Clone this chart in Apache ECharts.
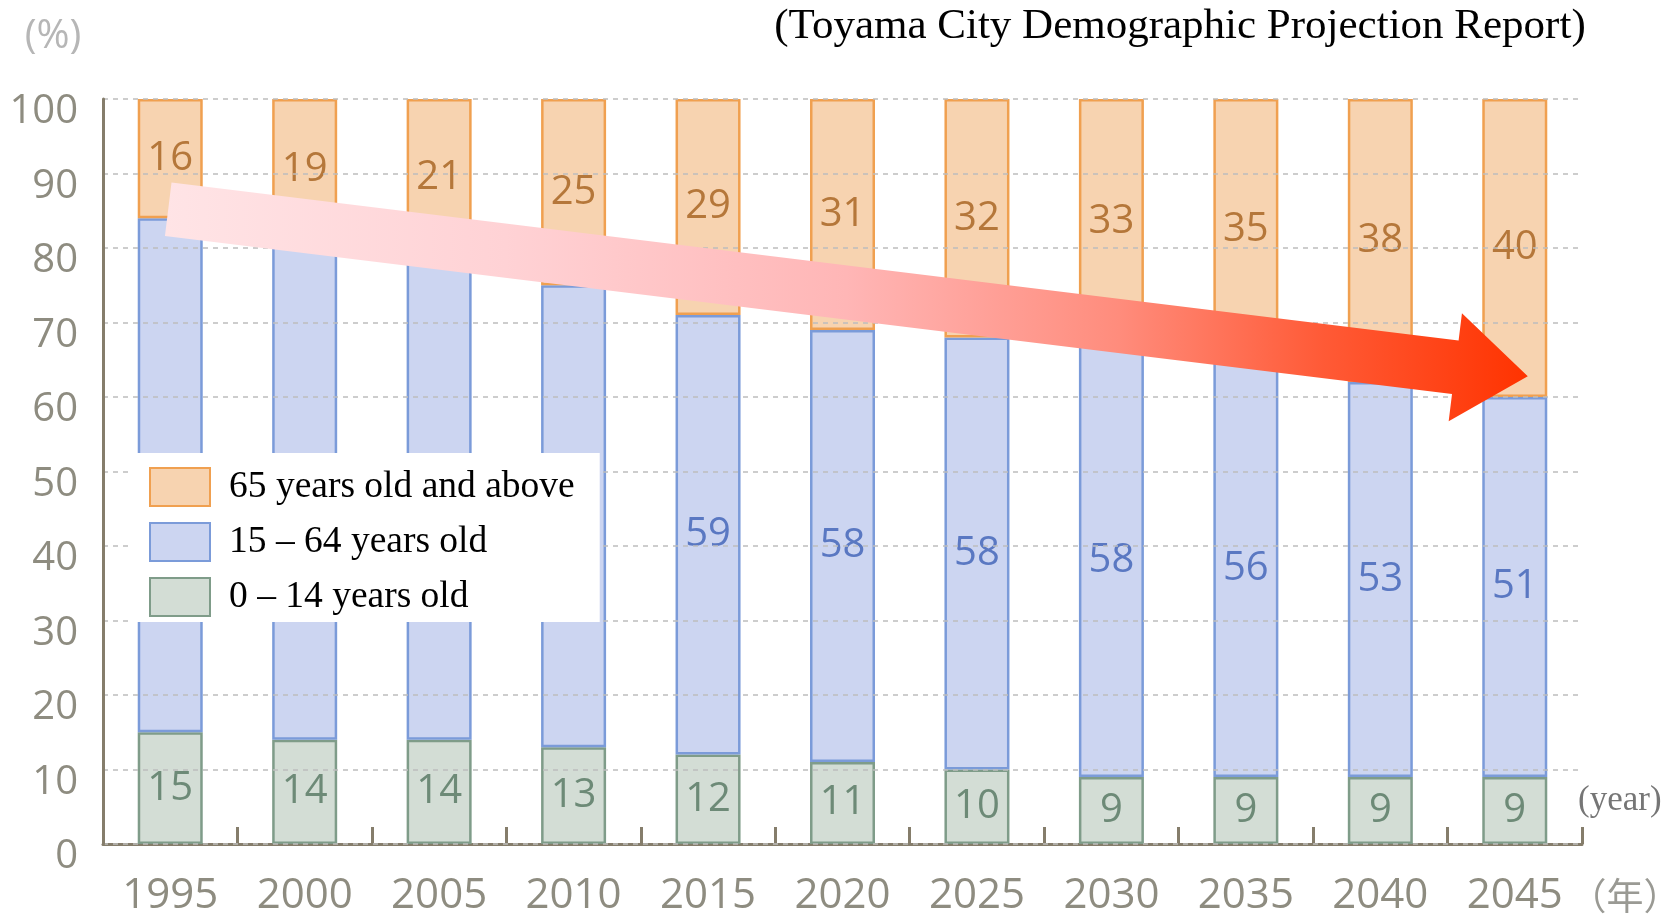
<!DOCTYPE html>
<html>
<head>
<meta charset="utf-8">
<script src="https://cdn.jsdelivr.net/npm/echarts@6/dist/echarts.min.js"></script>
<style>
html,body{margin:0;padding:0;background:#fff;}
#chart{width:1679px;height:914px;}
</style>
</head>
<body>
<div id="chart"></div>
<script>
const years = ['1995','2000','2005','2010','2015','2020','2025','2030','2035','2040','2045'];
const age0to14 = [15,14,14,13,12,11,10,9,9,9,9];
const age15to64 = [69,67,65,62,59,58,58,58,56,53,51];
const age65plus = [16,19,21,25,29,31,32,33,35,38,40];
const seriesNames = ['65 years old and above','15 – 64 years old','0 – 14 years old'];
const titleText = '(Toyama City Demographic Projection Report)';
const yUnitText = '(%)';
const xUnitText = '(year)';
const xUnitJa = '（年）';
// annotation arrow: from (category, value) to (category, value)
const arrowFrom = ['1995', 85.2];
const arrowTo = ['2045', 62.8];

const sans = '"Open Sans","Noto Sans",sans-serif';
const serif = '"Liberation Serif","Times New Roman",serif';
const axisColor = '#857d6b';
const tickTextColor = '#8e8c80';

const chart = echarts.init(document.getElementById('chart'));

function labelCfg(color){
  return {show:true, position:'inside', color:color, fontSize:40, fontFamily:sans, textBorderWidth:0};
}

chart.setOption({
  animation:false,
  backgroundColor:'#fff',
  grid:{left:103, right:97, top:99, bottom:70, containLabel:false, outerBoundsMode:'none'},
  legend:{
    orient:'vertical', left:133, top:453, data:seriesNames, icon:'rect',
    itemWidth:60, itemHeight:38, itemGap:15, padding:[14,25,5,16],
    backgroundColor:'#fff', z:10,
    textStyle:{fontFamily:serif, fontSize:37.5, lineHeight:38, color:'#000', padding:[0,0,0,14]}
  },
  xAxis:{
    type:'category', data:years, boundaryGap:true,
    axisLine:{show:true, lineStyle:{color:axisColor, width:3}},
    axisTick:{show:true, inside:true, length:17, lineStyle:{color:axisColor, width:3}},
    axisLabel:{color:tickTextColor, fontSize:42, fontFamily:sans, margin:31},
    splitLine:{show:false}
  },
  yAxis:{
    type:'value', min:0, max:100, interval:10, z:3,
    axisLine:{show:true, lineStyle:{color:axisColor, width:3}},
    axisTick:{show:false},
    axisLabel:{color:tickTextColor, fontSize:40, fontFamily:sans, margin:25, verticalAlign:'top', lineHeight:26},
    splitLine:{show:true, lineStyle:{color:'#bdbdbd', width:1.5, type:[5,5]}}
  },
  series:[
    {name:seriesNames[2], type:'bar', stack:'total', data:age0to14, barWidth:65,
     itemStyle:{color:'#d3ddd5', borderColor:'#7f9c89', borderWidth:2.5},
     label:labelCfg('#6d8a77')},
    {name:seriesNames[1], type:'bar', stack:'total', data:age15to64, barWidth:65,
     itemStyle:{color:'#ccd5f1', borderColor:'#7b9bd9', borderWidth:2.5},
     label:labelCfg('#5a78c2')},
    {name:seriesNames[0], type:'bar', stack:'total', data:age65plus, barWidth:65,
     itemStyle:{color:'#f7d3b0', borderColor:'#f0a050', borderWidth:2.5},
     label:labelCfg('#b5773a')}
  ]
});

// build the arrow from the axis scales
const p0 = chart.convertToPixel({xAxisIndex:0, yAxisIndex:0}, arrowFrom);
const p1 = chart.convertToPixel({xAxisIndex:0, yAxisIndex:0}, arrowTo);
p0[0] -= 2; p1[0] += 13;
const dx = p1[0]-p0[0], dy = p1[1]-p0[1];
const len = Math.sqrt(dx*dx+dy*dy);
const ux = dx/len, uy = dy/len;
const nx = -uy, ny = ux;
const h = 27, H = 54.5, L = 73;
const bx = p1[0]-ux*L, by = p1[1]-uy*L;
const pts = [
  [p0[0]-nx*h, p0[1]-ny*h],
  [bx-nx*h, by-ny*h],
  [bx-nx*H, by-ny*H],
  [p1[0], p1[1]],
  [bx+nx*H, by+ny*H],
  [bx+nx*h, by+ny*h],
  [p0[0]+nx*h, p0[1]+ny*h]
];

chart.setOption({
  graphic:[
    {type:'polygon', z:100, shape:{points:pts},
     style:{fill:{type:'linear', x:0, y:0, x2:1, y2:0, colorStops:[
       {offset:0, color:'#ffe4e6'},
       {offset:0.25, color:'#ffd2d5'},
       {offset:0.5, color:'#ffb6b6'},
       {offset:0.7, color:'#ff8c7c'},
       {offset:0.85, color:'#ff5a36'},
       {offset:1, color:'#ff3300'}
     ]}}},
    {type:'text', z:100, x:1180, y:27,
     style:{text:titleText, font:'43px ' + serif, fill:'#000', textAlign:'center', textVerticalAlign:'middle'}},
    {type:'text', z:100, x:53, y:37,
     style:{text:yUnitText, font:'40px ' + sans, fill:'#b6b6b6', textAlign:'center', textVerticalAlign:'middle'}},
    {type:'text', z:100, x:1578, y:801,
     style:{text:xUnitText, font:'35px ' + serif, fill:'#767676', textAlign:'left', textVerticalAlign:'middle'}},
    {type:'text', z:100, x:1625, y:896,
     style:{text:xUnitJa, font:'37px "Noto Sans CJK JP",sans-serif', fill:'#9a9a94', textAlign:'center', textVerticalAlign:'middle'}}
  ]
});
</script>
</body>
</html>
